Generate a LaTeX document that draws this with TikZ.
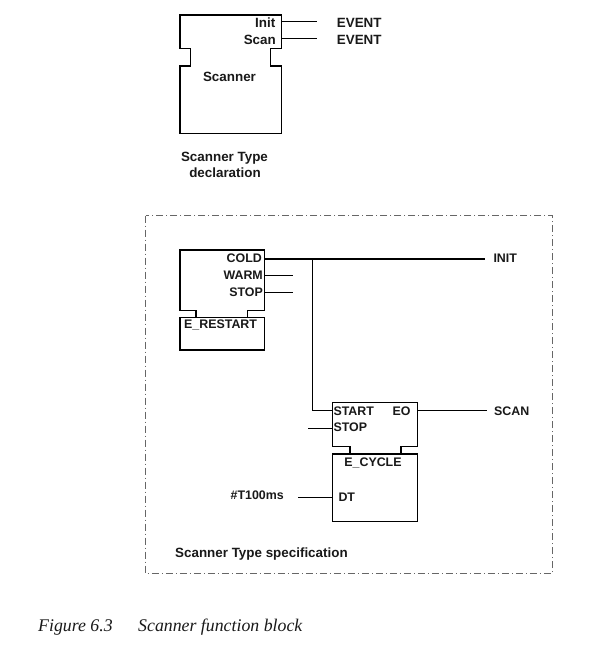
\documentclass[tikz,border=0pt]{standalone}
\usepackage{fontspec}
\setmainfont{Liberation Sans}
\newfontfamily\capfont{Liberation Serif}
\begin{document}
\begin{tikzpicture}[x=1pt,y=-1pt,
  lbl/.style={inner sep=0pt, font=\bfseries\fontsize{12.4}{12.4}\selectfont, text=black!90},
  big/.style={inner sep=0pt, font=\bfseries\fontsize{13.4}{13.4}\selectfont, text=black!90},
  captext/.style={inner sep=0pt, font=\capfont\itshape\fontsize{17.8}{17.8}\selectfont, text=black!90},
  blk/.style={line width=1.5pt, line join=miter},
  wire/.style={line width=1.3pt},
  frame/.style={line width=0.9pt, black!60, dash pattern=on 7.5pt off 2.5pt on 1.5pt off 2.5pt}]
\useasboundingbox (0,0) rectangle (615,649);
\fill[white] (0,0) rectangle (615,649);

% ---------- Scanner type declaration ----------
\draw[blk] (180,15) -- (281.7,15) -- (281.7,48.3) -- (270.7,48.3) -- (270.7,66) -- (281.7,66)
  -- (281.7,133.3) -- (180,133.3) -- (180,66) -- (190.7,66) -- (190.7,48.3) -- (180,48.3) -- cycle;
\coordinate (initP) at (281.7,21.5);
\coordinate (initE) at (316.7,21.5);
\coordinate (scanP) at (281.7,38.5);
\coordinate (scanE) at (316.7,38.5);
\draw[wire] (initP) -- (initE);
\draw[wire] (scanP) -- (scanE);
\node[big, anchor=base east] (tInit) at (275.5,27.5) {Init};
\node[big, anchor=base east] (tScan) at (276,44) {Scan};
\node[big, anchor=base west] (tEv1) at (336.7,27.5) {EVENT};
\node[big, anchor=base west] (tEv2) at (336.7,44) {EVENT};
\node[big, anchor=base] (tScanner) at (229.5,81) {Scanner};
\node[big, anchor=base] (tDecl1) at (224.5,161.7) {Scanner Type};
\node[big, anchor=base] (tDecl2) at (225,177.3) {declaration};

% ---------- specification frame ----------
\draw[frame] (145.5,215.7) rectangle (552.7,573.3);
\node[big, anchor=base west] (tSpec) at (175,557.3) {Scanner Type specification};

% ---------- E_RESTART ----------
\draw[blk] (180,317.3) rectangle (264.3,350);
\draw[blk] (196,317.3) -- (196,310.7) -- (180,310.7) -- (180,250) -- (264.3,250)
  -- (264.3,310.7) -- (247.3,310.7) -- (247.3,317.3);
\node[lbl, anchor=base east] (tCold) at (262,262.7) {COLD};
\node[lbl, anchor=base east] (tWarm) at (263,279.3) {WARM};
\node[lbl, anchor=base east] (tStopR) at (263,296) {STOP};
\node[lbl, anchor=base west] (tRestart) at (184,328) {E\_RESTART};

% ---------- E_CYCLE ----------
\draw[blk] (332.3,454) rectangle (417.7,521.7);
\draw[blk] (350,454) -- (350,446.7) -- (332.3,446.7) -- (332.3,402.3) -- (417.7,402.3)
  -- (417.7,446.7) -- (401,446.7) -- (401,454);
\node[lbl, anchor=base west] (tStart) at (333.3,415) {START};
\node[lbl, anchor=base west] (tEO) at (392.3,415) {EO};
\node[lbl, anchor=base west] (tStopC) at (333.3,431.7) {STOP};
\node[lbl, anchor=base] (tCycle) at (373,466) {E\_CYCLE};
\node[lbl, anchor=base west] (tDT) at (338.3,501) {DT};
\node[lbl, anchor=base east] (tT100) at (284,499) {\#T100ms};
\node[lbl, anchor=base west] (tInitOut) at (493.3,262) {INIT};
\node[lbl, anchor=base west] (tScanOut) at (494,415) {SCAN};

% ---------- connections ----------
\coordinate (coldP) at (264.3,259);
\coordinate (coldE) at (485,259);
\coordinate (junc) at (312.3,259);
\coordinate (startP) at (332.3,410.7);
\coordinate (warmP) at (264.3,275.3);
\coordinate (warmE) at (293,275.3);
\coordinate (stopP) at (264.3,292.3);
\coordinate (stopE) at (293,292.3);
\coordinate (eoP) at (417.7,410.7);
\coordinate (eoE) at (486.7,410.7);
\coordinate (stopCP) at (332.3,428.5);
\coordinate (stopCE) at (308.3,428.5);
\coordinate (dtP) at (332.3,497.7);
\coordinate (dtE) at (298.3,497.7);
\draw[wire] (coldP) -- (coldE);
\draw[wire] (junc) |- (startP);
\draw[wire] (warmP) -- (warmE);
\draw[wire] (stopP) -- (stopE);
\draw[wire] (eoP) -- (eoE);
\draw[wire] (stopCE) -- (stopCP);
\draw[wire] (dtE) -- (dtP);

% ---------- caption ----------
\node[captext, anchor=base west] (fig) at (38,631) {Figure 6.3};
\node[captext, anchor=base west] (figt) at (138,631) {Scanner function block};
\end{tikzpicture}
\end{document}
